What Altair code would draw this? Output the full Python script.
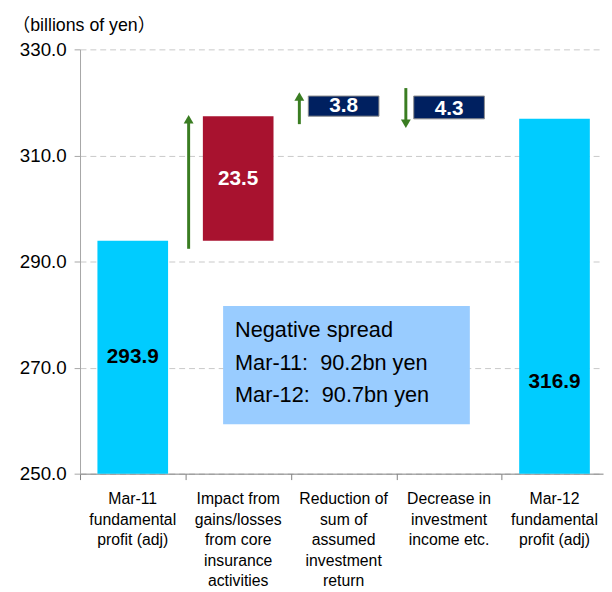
import altair as alt
import pandas as pd

FONT = "Liberation Sans, Arial, Noto Sans CJK JP, sans-serif"

# ---------------- data ----------------
categories = [
    "Mar-11|fundamental|profit (adj)",
    "Impact from|gains/losses|from core|insurance|activities",
    "Reduction of|sum of|assumed|investment|return",
    "Decrease in|investment|income etc.",
    "Mar-12|fundamental|profit (adj)",
]
bar_labels = ["293.9", "23.5", "3.8", "4.3", "316.9"]
start_total = 293.9
changes = [23.5, 3.8, -4.3]
end_total = 316.9
axis_floor = 250.0
label_y = [272.0, 305.6, 319.3, 318.7, 267.3]

arrow_x = [1.03, 2.08, 3.09]
arrow_from = [292.4, 315.9, 322.7]
arrow_to = [317.9, 322.2, 314.9]

box_x = [1.357, 3.697]
box_y = [259.3, 281.6]
box_lines = ["Negative spread", "Mar-11: \u00a090.2bn yen", "Mar-12: \u00a090.7bn yen"]
box_text_pos = [1.47, 277.0]

y_title = "（billions of yen）"
y_ticks = [250, 270, 290, 310, 330]
x_ticks = [0, 1, 2, 3, 4]

palette = ["#00CCFF", "#A8122F", "#002060", "#002060", "#00CCFF"]
GREEN = "#3A7D22"

# ---------------- tables ----------------
lo, hi = [axis_floor], [start_total]
level = start_total
for c in changes:
    lo.append(level)
    hi.append(round(level + c, 1))
    level = round(level + c, 1)
lo.append(axis_floor)
hi.append(end_total)

bars = pd.DataFrame({
    "i": list(range(len(categories))),
    "cat": categories,
    "lo": lo,
    "hi": hi,
    "label": bar_labels,
    "ly": label_y,
    "total": [1, 0, 0, 0, 1],
})
bars["x0"] = bars["i"] + 0.165
bars["x1"] = bars["i"] + 0.835
bars["xc"] = bars["i"] + 0.5

arrows = pd.DataFrame({"x": arrow_x, "y0": arrow_from, "tip": arrow_to})
arrows["dir"] = [1 if t > f else -1 for f, t in zip(arrow_from, arrow_to)]
arrows["shaft"] = arrows["tip"] - arrows["dir"] * 1.0

box = pd.DataFrame({"x0": [box_x[0]], "x1": [box_x[1]], "y0": [box_y[0]], "y1": [box_y[1]]})
box_txt = pd.DataFrame({"x": [box_text_pos[0]], "y": [box_text_pos[1]], "t": ["|".join(box_lines)]})

# ---------------- scales / axes ----------------
xs = alt.Scale(domain=[0, 4.96], nice=False, zero=False)
ys = alt.Scale(domain=[250, 330], nice=False, zero=False)

y_axis = alt.Axis(
    values=y_ticks, format=".1f", labelFontSize=19, labelColor="black", labelPadding=8,
    tickSize=6, tickColor="#A6A6A6", domainColor="#A6A6A6",
    grid=True, gridColor="#C8C8C8", gridDash=[6, 4], gridWidth=1,
    title=y_title, titleAngle=0, titleAlign="left", titleBaseline="middle",
    titleX=-69, titleY=-24, titleFontSize=18, titleFontWeight="normal", titleColor="black",
)
x_axis = alt.Axis(
    values=x_ticks, labels=False, grid=False, tickSize=6,
    tickColor="#808080", domainColor="#808080", title="",
)


def X(f, axis=False):
    if axis:
        return alt.X(f, type="quantitative", scale=xs, axis=x_axis, title="")
    return alt.X(f, type="quantitative", scale=xs, title="")


def Y(f, axis=False):
    if axis:
        return alt.Y(f, type="quantitative", scale=ys, axis=y_axis, title=y_title)
    return alt.Y(f, type="quantitative", scale=ys, title=y_title)


bar_layer = alt.Chart(bars).mark_rect().encode(
    x=X("x0", axis=True), x2="x1",
    y=Y("lo", axis=True), y2="hi",
    color=alt.Color("cat:N", scale=alt.Scale(domain=categories, range=palette), legend=None),
    stroke=alt.condition("datum.i == 2 || datum.i == 3", alt.value("#8C8C8C"), alt.value("transparent")),
    strokeWidth=alt.value(1),
)

box_layer = alt.Chart(box).mark_rect(color="#99CCFF").encode(
    x=X("x0"), x2="x1", y=Y("y0"), y2="y1"
)

box_text_layer = alt.Chart(box_txt).mark_text(
    align="left", baseline="middle", fontSize=22, lineBreak="|", lineHeight=33,
    font=FONT, color="black",
).encode(x=X("x"), y=Y("y"), text="t:N")

shaft_layer = alt.Chart(arrows).mark_rule(color=GREEN, strokeWidth=3).encode(
    x=X("x"), y=Y("y0"), y2="shaft"
)

head_up = alt.Chart(arrows).transform_filter("datum.dir > 0").mark_point(
    shape="triangle-up", filled=True, size=100, color=GREEN, opacity=1, strokeWidth=0, yOffset=5.8
).encode(x=X("x"), y=Y("tip"))

head_down = alt.Chart(arrows).transform_filter("datum.dir < 0").mark_point(
    shape="triangle-down", filled=True, size=100, color=GREEN, opacity=1, strokeWidth=0, yOffset=-5.8
).encode(x=X("x"), y=Y("tip"))

value_text = alt.Chart(bars).mark_text(
    fontSize=21, fontWeight="bold", font=FONT, baseline="middle", align="center"
).encode(
    x=X("xc"), y=Y("ly"), text="label:N",
    color=alt.condition("datum.total == 1", alt.value("black"), alt.value("white")),
)

cat_text = alt.Chart(bars).mark_text(
    baseline="alphabetic", align="center", fontSize=16, lineBreak="|", lineHeight=20.75,
    font=FONT, color="black",
).encode(x=X("xc"), y=alt.value(461), text="cat:N")

chart = alt.layer(
    bar_layer, box_layer, box_text_layer, shaft_layer, head_up, head_down, value_text, cat_text
).properties(
    width=530, height=430,
    autosize="none",
    padding={"left": 73, "top": 38, "right": 1, "bottom": 116},
    background="white",
).configure_view(strokeWidth=0).configure_axis(
    labelFont=FONT, titleFont=FONT
).configure_text(font=FONT)

chart.save("out.html", embed_options={"renderer": "svg", "actions": False})
